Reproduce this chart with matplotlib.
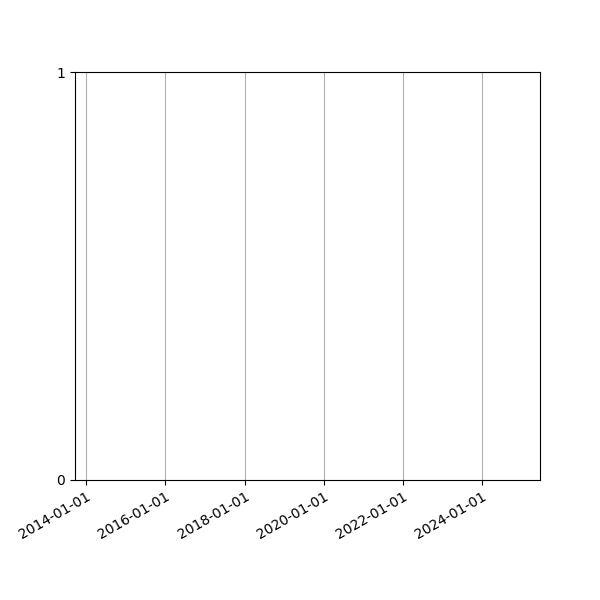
import numpy as np
import pandas as pd
import matplotlib
matplotlib.use("Agg")
import matplotlib.pyplot as plt
import matplotlib.dates as mdates

# empty time series; only the axis range is known
x_start = "2013-09-20"
x_end = "2025-06-19"
dates = pd.to_datetime([])
values = []

y_ticks = [0, 1]

fig, ax = plt.subplots(figsize=(6, 6), dpi=100)
ax.plot(dates, values)

ax.set_xlim(pd.Timestamp(x_start), pd.Timestamp(x_end))
ax.set_ylim(0, 1)
ax.set_yticks(y_ticks)

ax.xaxis.set_major_locator(mdates.YearLocator(2))
ax.xaxis.set_major_formatter(mdates.DateFormatter("%Y-%m-%d"))
ax.grid(axis="x")

plt.setp(ax.get_xticklabels(), rotation=30, ha="right", rotation_mode="anchor")
fig.subplots_adjust(bottom=0.2)
fig.savefig("out.png")
